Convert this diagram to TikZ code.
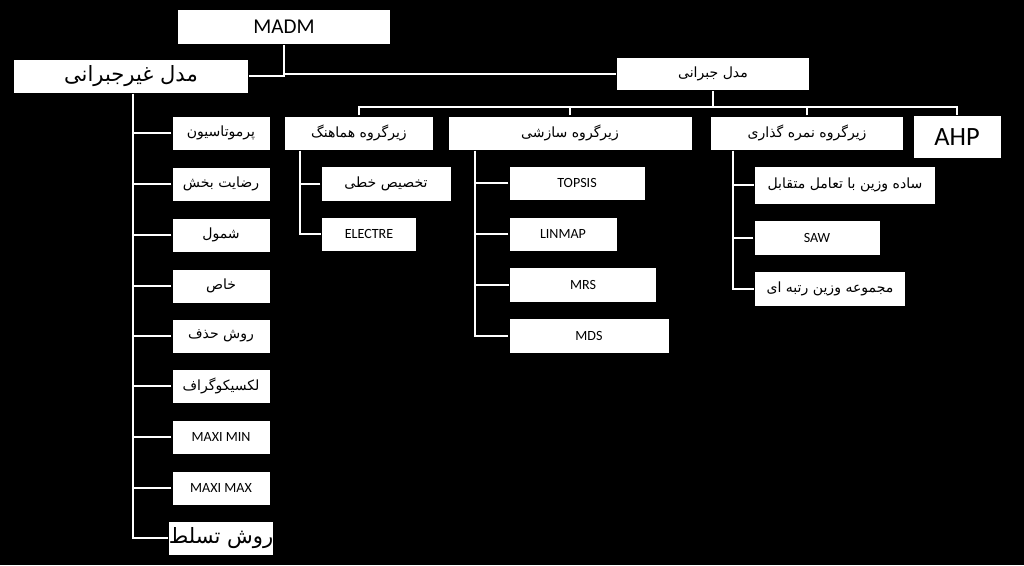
\documentclass[tikz,border=0pt]{standalone}
\usepackage{fontspec}
\setmainfont{Carlito}
\newfontfamily\fa[Script=Arabic]{DejaVu Sans}
\TeXXeTstate=1
\newcommand\fatxt[1]{{\fa\beginR #1\endR}}
\usepackage{tikz}

\begin{document}
\begin{tikzpicture}[x=0.02cm,y=-0.02cm,line width=1.3pt,white,
  box/.style={fill=white,text=black,inner sep=0pt,anchor=center,font=\fontsize{8}{9}\selectfont},
  big/.style={box,font=\fontsize{12}{14}\selectfont}]
\fill[black] (0,0) rectangle (1024,565);
\useasboundingbox (0,0) rectangle (1024,565);

% top levels
\node[big,minimum width=212*0.02cm,minimum height=34*0.02cm] (madm) at (284,27) {MADM};
\node[big,minimum width=234*0.02cm,minimum height=33*0.02cm] (nocomp) at (131,76) {\fatxt{مدل غیرجبرانی}};
\node[box,minimum width=192*0.02cm,minimum height=32*0.02cm] (comp) at (713,74) {\fatxt{مدل جبرانی}};
\draw (madm.south) |- (nocomp.east);
\draw (madm.south) |- (comp.west);

% subgroups
\node[box,minimum width=148*0.02cm,minimum height=33*0.02cm] (hama) at (359,133) {\fatxt{زیرگروه هماهنگ}};
\node[box,minimum width=243*0.02cm,minimum height=33*0.02cm] (saz) at (570,133) {\fatxt{زیرگروه سازشی}};
\node[box,minimum width=192*0.02cm,minimum height=33*0.02cm] (nomre) at (807,133) {\fatxt{زیرگروه نمره گذاری}};
\node[box,font=\fontsize{15}{17}\selectfont,minimum width=87*0.02cm,minimum height=42*0.02cm] (ahp) at (957,137) {AHP};
\coordinate (bar) at (713,107);
\draw (comp.south) -- (bar);
\draw (hama.north) |- (bar) -| (ahp.north);
\draw (saz.north) -- (saz.north |- bar);
\draw (nomre.north) -- (nomre.north |- bar);

% coordinated subgroup
\node[box,minimum width=129*0.02cm,minimum height=34*0.02cm] (takh) at (386,184) {\fatxt{تخصیص خطی}};
\node[box,minimum width=94*0.02cm,minimum height=33*0.02cm] (electre) at (369,234) {ELECTRE};
\draw (hama.south -| 300,0) |- (electre.west);
\draw (takh.west) -- (takh.west -| 300,0);

% compromise subgroup
\node[box,minimum width=135*0.02cm,minimum height=33*0.02cm] (topsis) at (577,183) {TOPSIS};
\node[box,minimum width=107*0.02cm,minimum height=33*0.02cm] (linmap) at (563,234) {LINMAP};
\node[box,minimum width=146*0.02cm,minimum height=34*0.02cm] (mrs) at (583,285) {MRS};
\node[box,minimum width=159*0.02cm,minimum height=34*0.02cm] (mds) at (589,336) {MDS};
\draw (saz.south -| 475,0) |- (mds.west);
\foreach \n in {topsis,linmap,mrs}
  \draw (\n.west) -- (\n.west -| 475,0);

% scoring subgroup
\node[box,minimum width=180*0.02cm,minimum height=37*0.02cm] (sade) at (845,185) {\fatxt{ساده وزین با تعامل متقابل}};
\node[box,minimum width=125*0.02cm,minimum height=34*0.02cm] (saw) at (817,238) {SAW};
\node[box,minimum width=150*0.02cm,minimum height=34*0.02cm] (majmu) at (830,289) {\fatxt{مجموعه وزین رتبه ای}};
\draw (nomre.south -| 733,0) |- (majmu.west);
\foreach \n in {sade,saw}
  \draw (\n.west) -- (\n.west -| 733,0);

% non-compensatory methods
\foreach \n/\y/\t in {perm/133/\fatxt{پرموتاسیون},raza/184/\fatxt{رضایت بخش},shom/235/\fatxt{شمول},
    khas/286/\fatxt{خاص},hazf/336/\fatxt{روش حذف},lex/386/\fatxt{لکسیکوگراف},
    maximin/437/MAXI MIN,maximax/488/MAXI MAX}
  \node[box,minimum width=97*0.02cm,minimum height=33*0.02cm] (\n) at (221,\y) {\t};
\node[big,minimum width=97*0.02cm,minimum height=33*0.02cm] (tasalot) at (221,538) {\fatxt{روش تسلط}};
\draw (nocomp.south -| 133,0) |- (tasalot.west);
\foreach \n in {perm,raza,shom,khas,hazf,lex,maximin,maximax}
  \draw (\n.west) -- (\n.west -| 133,0);
\end{tikzpicture}
\end{document}
